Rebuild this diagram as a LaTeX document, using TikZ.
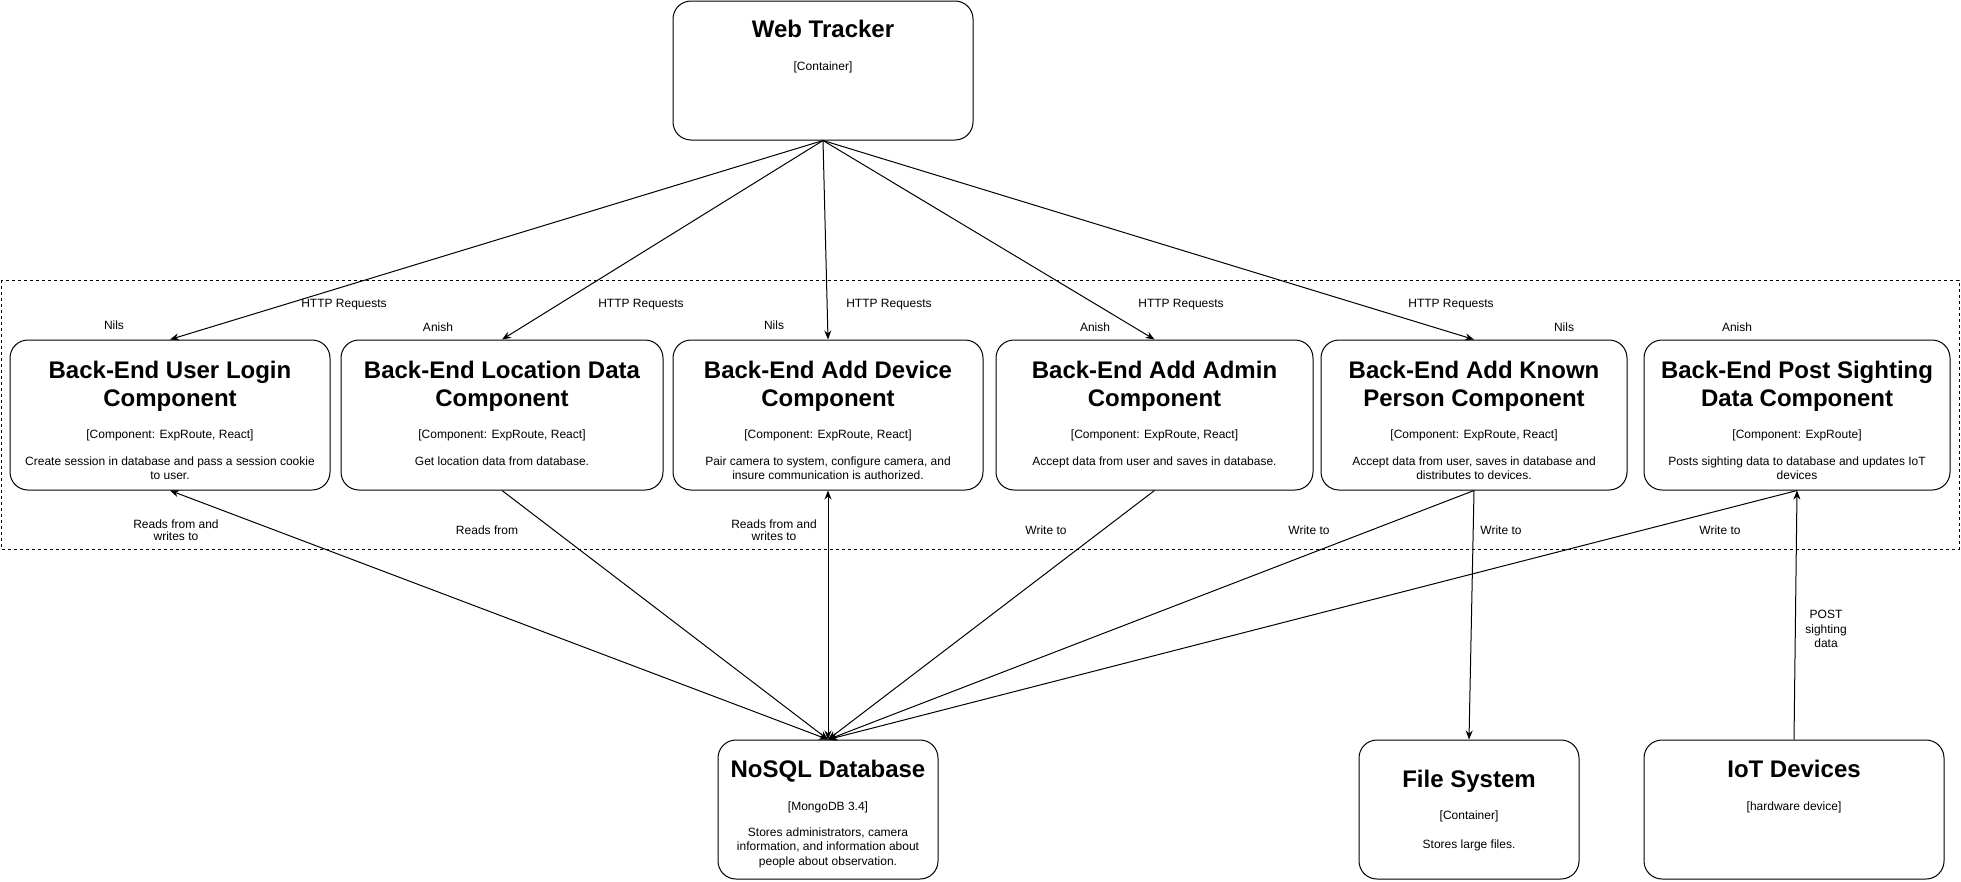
\documentclass[tikz,border=0pt]{standalone}
\usepackage{fontspec}
\setmainfont{Liberation Sans}
\usetikzlibrary{arrows.meta,calc}
\tikzset{
 box/.style={draw, line width=1pt, rounded corners=18pt, inner sep=0pt},
 ttl/.style={font=\fontsize{24}{27.5}\selectfont\bfseries, align=center, anchor=base, inner sep=0pt},
 small/.style={font=\fontsize{12}{14}\selectfont, align=center, anchor=base, inner sep=0pt},
 lbl/.style={font=\fontsize{12}{12.5}\selectfont, align=center, inner sep=0pt},
 tip/.tip={Stealth[length=9pt,width=7pt]},
 conn/.style={line width=1pt, -tip},
 conn2/.style={line width=1pt, tip-tip},
}
\begin{document}
\begin{tikzpicture}[x=1pt,y=-1pt]
\useasboundingbox (0,0) rectangle (1961,881);
% boundary
\draw[line width=1pt, dash pattern=on 3pt off 3pt] (1,280) rectangle (1959,549);
% boxes
\node[box, minimum width=300, minimum height=139] (wt) at (823,70.5) {};
\node[box, minimum width=320, minimum height=150] (b1) at (170,415) {};
\node[box, minimum width=322, minimum height=150] (b2) at (502,415) {};
\node[box, minimum width=310, minimum height=150] (b3) at (828,415) {};
\node[box, minimum width=317, minimum height=150] (b4) at (1154.5,415) {};
\node[box, minimum width=306, minimum height=150] (b5) at (1474,415) {};
\node[box, minimum width=306, minimum height=150] (b6) at (1797,415) {};
\node[box, minimum width=220, minimum height=139] (db) at (828,809.5) {};
\node[box, minimum width=220, minimum height=139] (fs) at (1469,809.5) {};
\node[box, minimum width=300, minimum height=139] (iot) at (1794,809.5) {};
% texts (multi-line nodes: base = last line baseline)
\node[ttl] (wtt) at (823,37.6) {Web Tracker};
\node[small] (wts) at (823,70.3) {[Container]};
\node[ttl] (b1t) at (170,406.1) {Back-End User Login\\Component};
\node[small] (b1s) at (170,438.3) {[Component: ExpRoute, React]};
\node[small] (b1d) at (170,479.5) {Create session in database and pass a session cookie\\to user.};
\node[ttl] (b2t) at (502,406.1) {Back-End Location Data\\Component};
\node[small] (b2s) at (502,438.3) {[Component: ExpRoute, React]};
\node[small] (b2d) at (502,465.5) {Get location data from database.};
\node[ttl] (b3t) at (828,406.1) {Back-End Add Device\\Component};
\node[small] (b3s) at (828,438.3) {[Component: ExpRoute, React]};
\node[small] (b3d) at (828,479.5) {Pair camera to system, configure camera, and\\insure communication is authorized.};
\node[ttl] (b4t) at (1154.5,406.1) {Back-End Add Admin\\Component};
\node[small] (b4s) at (1154.5,438.3) {[Component: ExpRoute, React]};
\node[small] (b4d) at (1154.5,465.5) {Accept data from user and saves in database.};
\node[ttl] (b5t) at (1474,406.1) {Back-End Add Known\\Person Component};
\node[small] (b5s) at (1474,438.3) {[Component: ExpRoute, React]};
\node[small] (b5d) at (1474,479.5) {Accept data from user, saves in database and\\distributes to devices.};
\node[ttl] (b6t) at (1797,406.1) {Back-End Post Sighting\\Data Component};
\node[small] (b6s) at (1797,438.3) {[Component: ExpRoute]};
\node[small] (b6d) at (1797,479.5) {Posts sighting data to database and updates IoT\\devices};
\node[ttl] (dbt) at (828,777.6) {NoSQL Database};
\node[small] (dbs) at (828,810.3) {[MongoDB 3.4]};
\node[small, font=\fontsize{12}{14.5}\selectfont] (dbd) at (828,865.3) {Stores administrators, camera\\information, and information about\\people about observation.};
\node[ttl] (fst) at (1469,787.6) {File System};
\node[small] (fss) at (1469,819.3) {[Container]};
\node[small] (fsd) at (1469,848.3) {Stores large files.};
\node[ttl] (iott) at (1794,777.6) {IoT Devices};
\node[small] (iots) at (1794,810.3) {[hardware device]};
% connectors from web tracker
\draw[conn] (wt.south) -- (b1.north);
\draw[conn] (wt.south) -- (b2.north);
\draw[conn] (wt.south) -- (b3.north);
\draw[conn] (wt.south) -- (b4.north);
\draw[conn] (wt.south) -- (b5.north);
% connectors to database
\draw[conn2] (b1.south) -- (db.north);
\draw[conn] (b2.south) -- (db.north);
\draw[conn2] (b3.south) -- (db.north);
\draw[conn] (b4.south) -- (db.north);
\draw[conn] (b5.south) -- (db.north);
\draw[conn] (b6.south) -- (db.north);
\draw[conn] (b5.south) -- (fs.north);
\draw[conn] (iot.north) -- (b6.south);
% labels
\node[lbl] (l1) at (344,305) {HTTP Requests};
\node[lbl] (l2) at (641,305) {HTTP Requests};
\node[lbl] (l3) at (889,305) {HTTP Requests};
\node[lbl] (l4) at (1181,305) {HTTP Requests};
\node[lbl] (l5) at (1451,305) {HTTP Requests};
\node[lbl] (n1) at (114,325) {Nils};
\node[lbl] (n2) at (438,327) {Anish};
\node[lbl] (n3) at (774,325) {Nils};
\node[lbl] (n4) at (1095,327) {Anish};
\node[lbl] (n5) at (1564,327) {Nils};
\node[lbl] (n6) at (1737,327) {Anish};
\node[lbl] (r1) at (176,530) {Reads from and\\writes to};
\node[lbl] (r2) at (487,530) {Reads from};
\node[lbl] (r3) at (774,530) {Reads from and\\writes to};
\node[lbl] (w4) at (1046,530) {Write to};
\node[lbl] (w5) at (1309,530) {Write to};
\node[lbl] (w6) at (1501,530) {Write to};
\node[lbl] (w7) at (1720,530) {Write to};
\node[lbl, font=\fontsize{12}{14.5}\selectfont] (post) at (1826,629) {POST\\sighting\\data};
\end{tikzpicture}
\end{document}
